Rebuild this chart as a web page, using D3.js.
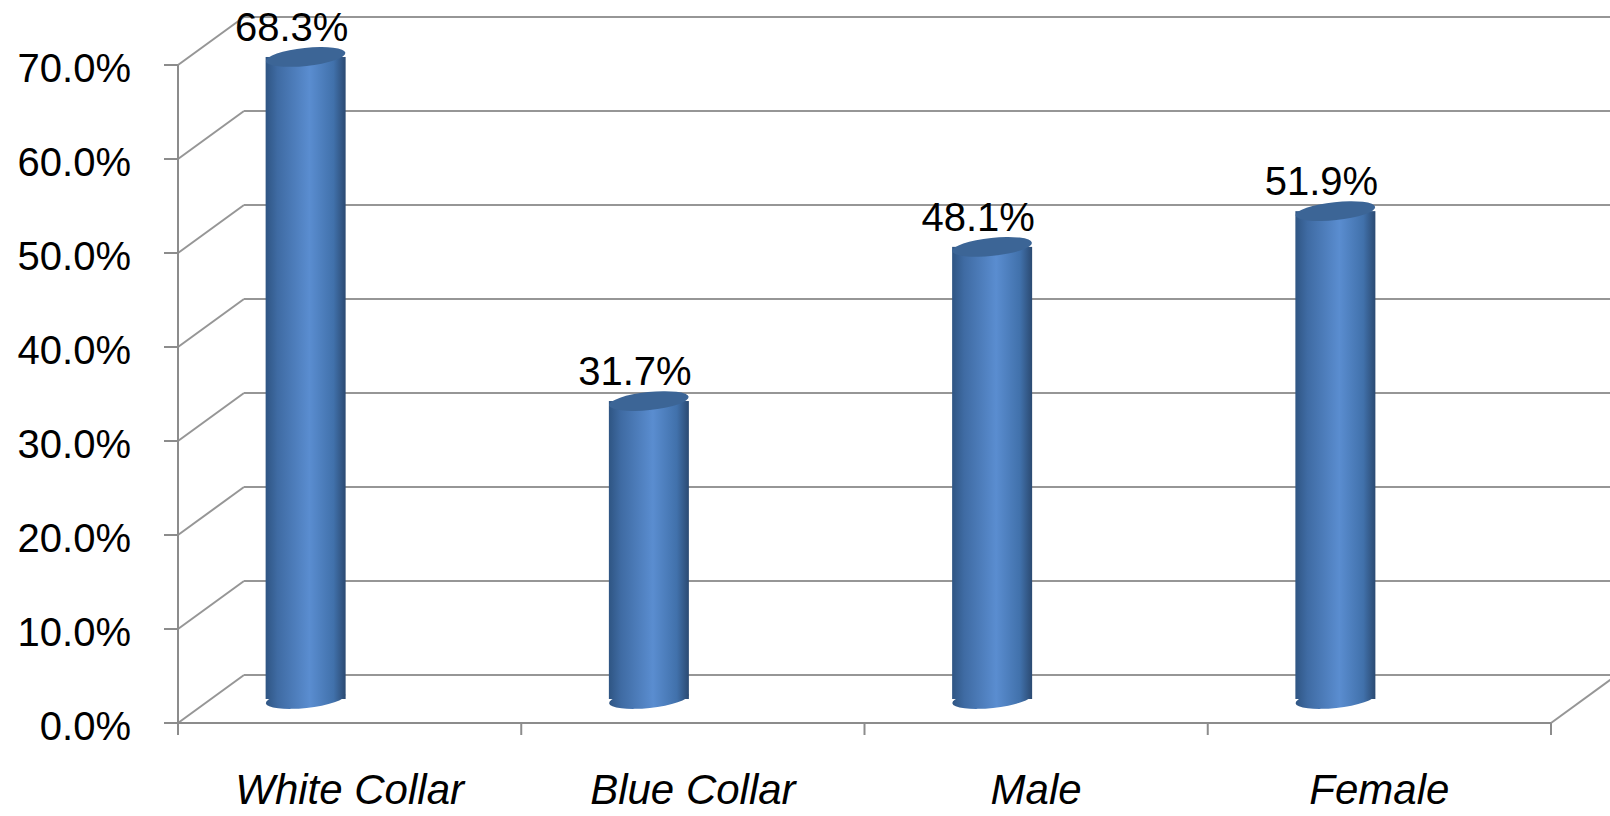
<!DOCTYPE html>
<html><head><meta charset="utf-8">
<script src="https://cdn.jsdelivr.net/npm/d3@7"></script>
<style>
html,body{margin:0;padding:0;background:#fff;overflow:hidden}
svg{display:block}
text{font-family:"Liberation Sans","DejaVu Sans",sans-serif;fill:#000}
</style></head>
<body><svg id="c" width="1610" height="816"></svg>
<script>
const categories = ["White Collar", "Blue Collar", "Male", "Female"];
const values = [0.683, 0.317, 0.481, 0.519];
const yTicks = [0, 0.1, 0.2, 0.3, 0.4, 0.5, 0.6, 0.7];

const W = 1610, H = 816;
const svg = d3.select("#c");
const depthX = 66, depthY = -48;
const y = d3.scaleLinear().domain([0, 0.7]).range([723, 65]);
const x = d3.scaleBand().domain(categories).range([178, 1551]).padding(0);
const fmt = d3.format(".1%");
const grid = "#969696";

// gradient
const defs = svg.append("defs");
const g1 = defs.append("linearGradient").attr("id", "body").attr("x1", 0).attr("x2", 1).attr("y1", 0).attr("y2", 0);
[[0, "#2f5583"], [0.15, "#3f6ba3"], [0.55, "#5a8dd0"], [0.85, "#4171ab"], [1, "#2b4a72"]]
  .forEach(([o, c]) => g1.append("stop").attr("offset", o).attr("stop-color", c));

const clip = defs.append("clipPath").attr("id", "cl");
clip.append("rect").attr("x", 0).attr("y", 0).attr("width", W).attr("height", H);

const gg = svg.append("g").attr("clip-path", "url(#cl)");
const x0 = x.range()[0], x1 = x.range()[1];

// side wall diagonals + back wall gridlines
yTicks.forEach(t => {
  gg.append("line").attr("x1", x0).attr("y1", y(t)).attr("x2", x0 + depthX).attr("y2", y(t) + depthY)
    .attr("stroke", grid).attr("stroke-width", 2);
  gg.append("line").attr("x1", x0 + depthX).attr("y1", y(t) + depthY).attr("x2", W + 10).attr("y2", y(t) + depthY)
    .attr("stroke", grid).attr("stroke-width", 2);
});
// floor right diagonal
gg.append("line").attr("x1", x1).attr("y1", y(0)).attr("x2", x1 + depthX).attr("y2", y(0) + depthY)
  .attr("stroke", grid).attr("stroke-width", 2);

// front axes
const axisC = "#8c8c8c";
gg.append("line").attr("x1", x0).attr("y1", y(0.7)).attr("x2", x0).attr("y2", y(0) + 12).attr("stroke", axisC).attr("stroke-width", 2);
gg.append("line").attr("x1", x0).attr("y1", y(0)).attr("x2", x1).attr("y2", y(0)).attr("stroke", axisC).attr("stroke-width", 2);
yTicks.forEach(t => {
  gg.append("line").attr("x1", x0 - 14).attr("x2", x0).attr("y1", y(t)).attr("y2", y(t)).attr("stroke", axisC).attr("stroke-width", 2);
  svg.append("text").attr("x", 131).attr("y", y(t) + 3).attr("dy", "0.35em").attr("text-anchor", "end")
    .attr("font-size", 40).text(fmt(t));
});
const bounds = categories.map(c => x(c)).concat([x1]);
bounds.forEach(b => {
  gg.append("line").attr("x1", b).attr("x2", b).attr("y1", y(0)).attr("y2", y(0) + 12).attr("stroke", axisC).attr("stroke-width", 2);
});
categories.forEach(c => {
  svg.append("text").attr("x", x(c) + x.bandwidth() / 2).attr("y", 804).attr("text-anchor", "middle")
    .attr("font-size", 42).attr("font-style", "italic").text(c);
});

// bars (cylinders)
const rx = 40, ry = 9, rot = -6;
const barOff = -44, depthMidY = depthY / 2;
categories.forEach((c, i) => {
  const cx = x(c) + x.bandwidth() / 2 + barOff;
  const baseY = y(0) + depthMidY;
  const topY = y(values[i]) + depthMidY;
  const g = gg.append("g");
  g.append("ellipse").attr("cx", cx).attr("cy", baseY).attr("rx", rx).attr("ry", ry)
    .attr("transform", `rotate(${rot},${cx},${baseY})`).attr("fill", "url(#body)");
  g.append("rect").attr("x", cx - rx).attr("y", topY).attr("width", 2 * rx).attr("height", baseY - topY)
    .attr("fill", "url(#body)");
  g.append("ellipse").attr("cx", cx).attr("cy", topY).attr("rx", rx).attr("ry", ry)
    .attr("transform", `rotate(${rot},${cx},${topY})`).attr("fill", "#3c6596");
  svg.append("text").attr("x", cx - 14).attr("y", topY - 16).attr("text-anchor", "middle")
    .attr("font-size", 40).text(fmt(values[i]));
});
</script></body></html>
